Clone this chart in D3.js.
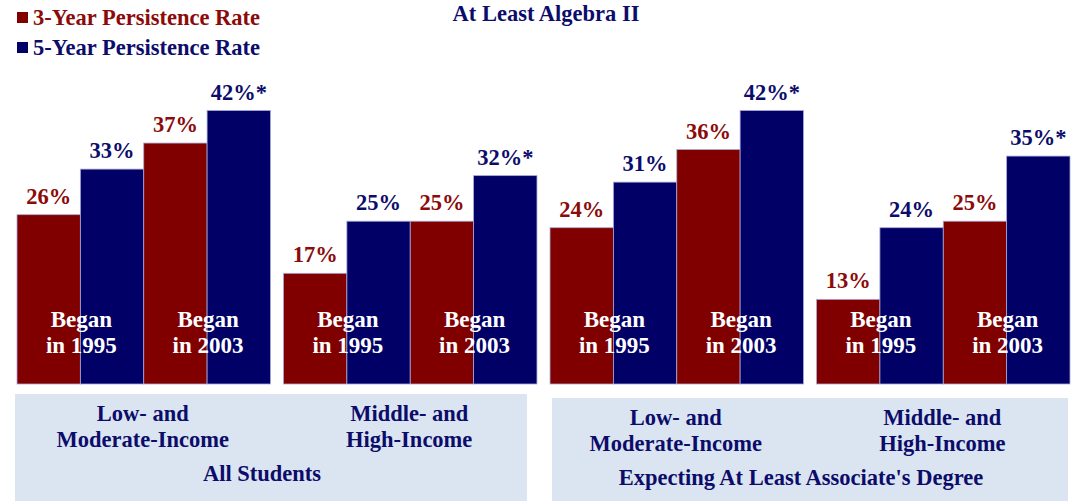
<!DOCTYPE html>
<html>
<head>
<meta charset="utf-8">
<script src="https://cdn.jsdelivr.net/npm/d3@7"></script>
<style>
  body { margin: 0; background: #fff; }
  svg { display: block; font-family: "Liberation Serif", "Times New Roman", serif; font-weight: bold; }
</style>
</head>
<body>
<svg id="chart" width="1074" height="501"></svg>
<script>
// data
var panels = ["all-low", "all-mid", "exp-low", "exp-mid"];
var panelLabels = [["Low- and", "Moderate-Income"], ["Middle- and", "High-Income"],
                   ["Low- and", "Moderate-Income"], ["Middle- and", "High-Income"]];
var groupLabels = ["All Students", "Expecting At Least Associate's Degree"];
var cohorts = ["1995", "2003"];
var threeYear = [[26, 37], [17, 25], [24, 36], [13, 25]];
var fiveYear = [[33, 42], [25, 32], [31, 42], [24, 35]];
var fiveYearSig = [[false, true], [false, true], [false, true], [false, true]];
var seriesNames = ["3-Year Persistence Rate", "5-Year Persistence Rate"];

var width = 1074, height = 501;
var red = "#800000", navy = "#000066", redText = "#8b0a0a", navyText = "#0c0c6b";

var svg = d3.select("#chart");

var x0 = d3.scaleBand()
    .domain(panels)
    .range([17, 1070])
    .paddingInner(0.049);

var barKeys = [];
cohorts.forEach(function(c) { barKeys.push(c + "-3", c + "-5"); });

var x1 = d3.scaleBand()
    .domain(barKeys)
    .range([0, x0.bandwidth()]);

var y = d3.scaleLinear()
    .domain([0, 42])
    .range([384, 110.5]);

// group boxes behind category labels
var boxes = [
  {panels: [0, 1], top: 394, inL: 2, inR: 10, label: groupLabels[0]},
  {panels: [2, 3], top: 398, inL: -2, inR: 2, label: groupLabels[1]}
];
boxes.forEach(function(b) {
  var left = x0(panels[b.panels[0]]) - b.inL,
      right = x0(panels[b.panels[1]]) + x0.bandwidth() - b.inR;
  svg.append("rect")
      .attr("x", left)
      .attr("y", b.top)
      .attr("width", right - left)
      .attr("height", height - b.top)
      .attr("fill", "#dbe5f1");
  svg.append("text")
      .attr("x", (left + right) / 2 - 9)
      .attr("y", b.top + 87)
      .attr("text-anchor", "middle")
      .attr("font-size", "22.5px")
      .attr("fill", navyText)
      .text(b.label);
});

// flatten for bars
var bars = [];
panels.forEach(function(p, i) {
  cohorts.forEach(function(c, j) {
    bars.push({panel: p, key: c + "-3", value: threeYear[i][j], sig: false, color: red, text: redText});
    bars.push({panel: p, key: c + "-5", value: fiveYear[i][j], sig: fiveYearSig[i][j], color: navy, text: navyText});
  });
});

var g = svg.selectAll("g.panel")
    .data(panels)
    .enter().append("g")
    .attr("class", "panel")
    .attr("transform", function(d) { return "translate(" + x0(d) + ",0)"; });

g.selectAll("rect")
    .data(function(p) { return bars.filter(function(b) { return b.panel === p; }); })
    .enter().append("rect")
    .attr("x", function(d) { return x1(d.key); })
    .attr("y", function(d) { return y(d.value); })
    .attr("width", x1.bandwidth())
    .attr("height", function(d) { return y(0) - y(d.value); })
    .attr("fill", function(d) { return d.color; })
    .attr("stroke", "#a9a9d6")
    .attr("stroke-width", 0.8);

g.selectAll("text.val")
    .data(function(p) { return bars.filter(function(b) { return b.panel === p; }); })
    .enter().append("text")
    .attr("class", "val")
    .attr("x", function(d) { return x1(d.key) + x1.bandwidth() / 2; })
    .attr("y", function(d) { return y(d.value) - 11; })
    .attr("text-anchor", "middle")
    .attr("font-size", "22.5px")
    .attr("fill", function(d) { return d.text; })
    .text(function(d) { return d.value + "%" + (d.sig ? "*" : ""); });

// "Began in ..." labels straddling each cohort pair
cohorts.forEach(function(c) {
  var t = g.append("text")
      .attr("text-anchor", "middle")
      .attr("font-size", "23px")
      .attr("fill", "#fff");
  t.append("tspan")
      .attr("x", x1(c + "-5") + 1)
      .attr("y", 327)
      .text("Began");
  t.append("tspan")
      .attr("x", x1(c + "-5") + 1)
      .attr("y", 353)
      .text("in " + c);
});

// panel category labels
g.each(function(p, i) {
  var top = i < 2 ? 394 : 398;
  var t = d3.select(this).append("text")
      .attr("text-anchor", "middle")
      .attr("font-size", "22.5px")
      .attr("fill", navyText);
  panelLabels[i].forEach(function(line, k) {
    t.append("tspan")
        .attr("x", x0.bandwidth() / 2 - 1)
        .attr("y", top + 27 + k * 26)
        .text(line);
  });
});

// title
svg.append("text")
    .attr("x", 546)
    .attr("y", 21)
    .attr("text-anchor", "middle")
    .attr("font-size", "22.5px")
    .attr("fill", navyText)
    .text("At Least Algebra II");

// legend
var legend = svg.selectAll("g.legend")
    .data(seriesNames)
    .enter().append("g")
    .attr("class", "legend")
    .attr("transform", function(d, i) { return "translate(17," + (12 + i * 30) + ")"; });

legend.append("rect")
    .attr("width", 11)
    .attr("height", 11)
    .attr("fill", function(d, i) { return i ? navy : red; });

legend.append("text")
    .attr("x", 16)
    .attr("y", 13)
    .attr("font-size", "22.5px")
    .attr("fill", function(d, i) { return i ? navyText : redText; })
    .text(function(d) { return d; });
</script>
</body>
</html>
